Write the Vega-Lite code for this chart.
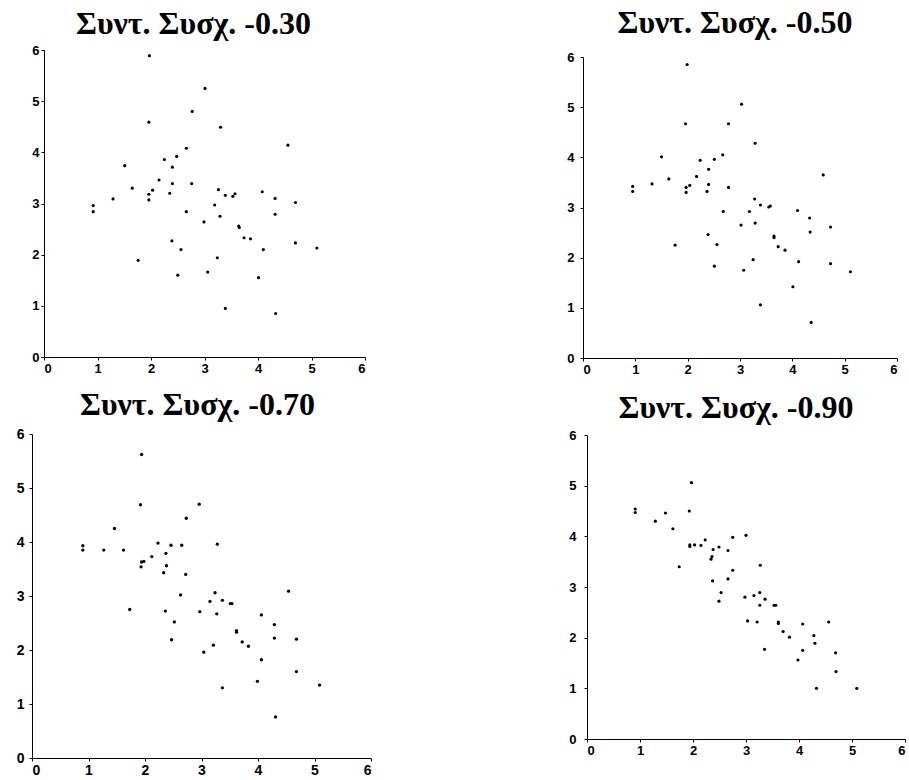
{
  "$schema": "https://vega.github.io/schema/vega-lite/v6.json",
  "padding": {"top": 7, "left": 0, "right": 0, "bottom": 0},
  "background": "white",
  "datasets": {
    "p30": [{"x":0.92,"y":2.96},{"x":0.92,"y":2.84},{"x":1.29,"y":3.09},{"x":1.51,"y":3.74},{"x":1.65,"y":3.30},{"x":1.76,"y":1.89},{"x":1.96,"y":4.59},{"x":1.96,"y":3.18},{"x":1.96,"y":3.07},{"x":1.97,"y":5.89},{"x":2.03,"y":3.26},{"x":2.15,"y":3.46},{"x":2.25,"y":3.86},{"x":2.35,"y":3.20},{"x":2.39,"y":2.27},{"x":2.40,"y":3.71},{"x":2.40,"y":3.39},{"x":2.48,"y":3.92},{"x":2.50,"y":1.60},{"x":2.56,"y":2.10},{"x":2.66,"y":4.08},{"x":2.66,"y":2.84},{"x":2.76,"y":3.39},{"x":2.77,"y":4.80},{"x":2.99,"y":2.64},{"x":3.01,"y":5.25},{"x":3.06,"y":1.66},{"x":3.19,"y":2.97},{"x":3.24,"y":1.94},{"x":3.26,"y":3.27},{"x":3.29,"y":2.75},{"x":3.30,"y":4.49},{"x":3.39,"y":3.16},{"x":3.39,"y":0.95},{"x":3.53,"y":3.14},{"x":3.57,"y":3.19},{"x":3.64,"y":2.56},{"x":3.65,"y":2.53},{"x":3.74,"y":2.33},{"x":3.86,"y":2.31},{"x":4.01,"y":1.55},{"x":4.08,"y":3.23},{"x":4.10,"y":2.10},{"x":4.32,"y":3.10},{"x":4.32,"y":2.79},{"x":4.33,"y":0.85},{"x":4.56,"y":4.14},{"x":4.70,"y":3.02},{"x":4.70,"y":2.23},{"x":5.10,"y":2.13}],
    "p50": [{"x":0.95,"y":3.42},{"x":0.95,"y":3.32},{"x":1.32,"y":3.47},{"x":1.50,"y":4.01},{"x":1.64,"y":3.57},{"x":1.76,"y":2.25},{"x":1.96,"y":4.67},{"x":1.97,"y":3.40},{"x":1.97,"y":3.30},{"x":1.99,"y":5.85},{"x":2.04,"y":3.44},{"x":2.17,"y":3.62},{"x":2.24,"y":3.94},{"x":2.37,"y":3.32},{"x":2.39,"y":2.46},{"x":2.40,"y":3.76},{"x":2.40,"y":3.46},{"x":2.51,"y":3.96},{"x":2.51,"y":1.83},{"x":2.56,"y":2.26},{"x":2.67,"y":4.05},{"x":2.68,"y":2.92},{"x":2.78,"y":3.40},{"x":2.78,"y":4.67},{"x":3.02,"y":2.65},{"x":3.03,"y":5.06},{"x":3.07,"y":1.75},{"x":3.18,"y":2.92},{"x":3.25,"y":1.96},{"x":3.28,"y":3.17},{"x":3.29,"y":2.69},{"x":3.29,"y":4.28},{"x":3.39,"y":3.05},{"x":3.39,"y":1.06},{"x":3.55,"y":3.01},{"x":3.58,"y":3.03},{"x":3.65,"y":2.43},{"x":3.65,"y":2.40},{"x":3.73,"y":2.22},{"x":3.86,"y":2.15},{"x":4.01,"y":1.42},{"x":4.10,"y":2.94},{"x":4.12,"y":1.92},{"x":4.33,"y":2.79},{"x":4.34,"y":2.51},{"x":4.36,"y":0.71},{"x":4.59,"y":3.65},{"x":4.73,"y":2.61},{"x":4.73,"y":1.88},{"x":5.11,"y":1.72}],
    "p70": [{"x":0.90,"y":3.93},{"x":0.90,"y":3.85},{"x":1.27,"y":3.85},{"x":1.46,"y":4.25},{"x":1.62,"y":3.85},{"x":1.73,"y":2.75},{"x":1.92,"y":4.69},{"x":1.94,"y":3.63},{"x":1.93,"y":3.54},{"x":1.94,"y":5.62},{"x":1.98,"y":3.64},{"x":2.12,"y":3.73},{"x":2.23,"y":3.98},{"x":2.33,"y":3.43},{"x":2.36,"y":2.72},{"x":2.37,"y":3.79},{"x":2.38,"y":3.56},{"x":2.46,"y":3.94},{"x":2.47,"y":2.19},{"x":2.52,"y":2.52},{"x":2.65,"y":3.94},{"x":2.63,"y":3.02},{"x":2.72,"y":3.40},{"x":2.73,"y":4.44},{"x":2.97,"y":2.71},{"x":2.96,"y":4.70},{"x":3.04,"y":1.96},{"x":3.15,"y":2.90},{"x":3.21,"y":2.09},{"x":3.24,"y":3.06},{"x":3.27,"y":2.67},{"x":3.28,"y":3.96},{"x":3.37,"y":2.92},{"x":3.37,"y":1.30},{"x":3.51,"y":2.86},{"x":3.54,"y":2.86},{"x":3.62,"y":2.36},{"x":3.62,"y":2.33},{"x":3.72,"y":2.15},{"x":3.83,"y":2.07},{"x":3.99,"y":1.42},{"x":4.06,"y":2.65},{"x":4.06,"y":1.82},{"x":4.29,"y":2.47},{"x":4.29,"y":2.22},{"x":4.31,"y":0.76},{"x":4.54,"y":3.09},{"x":4.68,"y":2.20},{"x":4.68,"y":1.60},{"x":5.09,"y":1.35}],
    "p90": [{"x":0.91,"y":4.54},{"x":0.91,"y":4.47},{"x":1.29,"y":4.30},{"x":1.48,"y":4.46},{"x":1.62,"y":4.15},{"x":1.74,"y":3.40},{"x":1.93,"y":4.50},{"x":1.94,"y":3.83},{"x":1.94,"y":3.80},{"x":1.97,"y":5.06},{"x":2.03,"y":3.83},{"x":2.15,"y":3.82},{"x":2.23,"y":3.93},{"x":2.34,"y":3.55},{"x":2.37,"y":3.12},{"x":2.38,"y":3.74},{"x":2.36,"y":3.60},{"x":2.49,"y":3.79},{"x":2.49,"y":2.72},{"x":2.53,"y":2.89},{"x":2.66,"y":3.72},{"x":2.66,"y":3.16},{"x":2.75,"y":3.33},{"x":2.75,"y":3.98},{"x":2.98,"y":2.80},{"x":3.00,"y":4.02},{"x":3.03,"y":2.33},{"x":3.15,"y":2.83},{"x":3.21,"y":2.31},{"x":3.26,"y":2.89},{"x":3.26,"y":2.64},{"x":3.27,"y":3.43},{"x":3.36,"y":2.76},{"x":3.35,"y":1.77},{"x":3.53,"y":2.64},{"x":3.56,"y":2.64},{"x":3.61,"y":2.31},{"x":3.61,"y":2.28},{"x":3.70,"y":2.12},{"x":3.82,"y":2.01},{"x":3.98,"y":1.56},{"x":4.07,"y":2.27},{"x":4.07,"y":1.75},{"x":4.28,"y":2.04},{"x":4.30,"y":1.89},{"x":4.33,"y":1.00},{"x":4.56,"y":2.31},{"x":4.69,"y":1.70},{"x":4.70,"y":1.33},{"x":5.09,"y":1.00}]
  },
  "vconcat": [
    {
      "hconcat": [
        {
          "width": 333, "height": 307,
          "title": {"text": "Συντ. Συσχ. -0.30", "offset": 3, "dx": -5},
          "data": {"name": "p30"},
          "mark": {"type": "circle", "size": 10, "color": "black", "opacity": 1},
          "encoding": {
            "x": {"field": "x", "type": "quantitative", "scale": {"domain": [0, 6], "nice": false, "range": [12, 333]}, "axis": {"title": null, "values": [0,1,2,3,4,5,6], "minExtent": 20, "maxExtent": 20}},
            "y": {"field": "y", "type": "quantitative", "scale": {"domain": [0, 6], "nice": false}, "axis": {"title": null, "values": [0,1,2,3,4,5,6], "offset": -12, "minExtent": 44, "maxExtent": 44, "labelPadding": 2}}
          }
        },
        {
          "width": 314, "height": 308,
          "title": {"text": "Συντ. Συσχ. -0.50", "offset": 10, "dx": -5},
          "data": {"name": "p50"},
          "mark": {"type": "circle", "size": 10, "color": "black", "opacity": 1},
          "encoding": {
            "x": {"field": "x", "type": "quantitative", "scale": {"domain": [0, 6], "nice": false}, "axis": {"title": null, "values": [0,1,2,3,4,5,6], "minExtent": 20, "maxExtent": 20}},
            "y": {"field": "y", "type": "quantitative", "scale": {"domain": [0, 6], "nice": false, "range": [308, 7]}, "axis": {"title": null, "values": [0,1,2,3,4,5,6], "minExtent": 30, "maxExtent": 30, "labelPadding": 6}}
          }
        }
      ],
      "spacing": 187,
      "align": "none"
    },
    {
      "hconcat": [
        {
          "width": 339, "height": 324,
          "title": {"text": "Συντ. Συσχ. -0.70", "offset": 5, "dx": -4},
          "data": {"name": "p70"},
          "mark": {"type": "circle", "size": 11, "color": "black", "opacity": 1},
          "encoding": {
            "x": {"field": "x", "type": "quantitative", "scale": {"domain": [0, 6], "nice": false}, "axis": {"title": null, "values": [0,1,2,3,4,5,6], "minExtent": 20, "maxExtent": 20, "labelFontSize": 14}},
            "y": {"field": "y", "type": "quantitative", "scale": {"domain": [0, 6], "nice": false}, "axis": {"title": null, "values": [0,1,2,3,4,5,6], "minExtent": 32, "maxExtent": 32, "labelPadding": 5, "labelFontSize": 14}}
          }
        },
        {
          "width": 318, "height": 305,
          "title": {"text": "Συντ. Συσχ. -0.90", "offset": 4, "dx": -10},
          "data": {"name": "p90"},
          "mark": {"type": "circle", "size": 10, "color": "black", "opacity": 1},
          "encoding": {
            "x": {"field": "x", "type": "quantitative", "scale": {"domain": [0, 6], "nice": false}, "axis": {"title": null, "values": [0,1,2,3,4,5,6], "minExtent": 20, "maxExtent": 20}},
            "y": {"field": "y", "type": "quantitative", "scale": {"domain": [0, 6], "nice": false, "range": [305, 1]}, "axis": {"title": null, "values": [0,1,2,3,4,5,6], "minExtent": 30, "maxExtent": 30, "labelPadding": 8}}
          }
        }
      ],
      "spacing": 185,
      "align": "none"
    }
  ],
  "spacing": 11,
  "align": "none",
  "config": {
    "view": {"stroke": null},
    "title": {"font": "Liberation Serif", "fontSize": 32, "fontWeight": "bold", "anchor": "middle", "frame": "group", "baseline": "alphabetic", "color": "black"},
    "axis": {"grid": false, "domainColor": "black", "domainWidth": 1, "tickColor": "black", "tickSize": 3, "tickWidth": 1, "labelPadding": 2, "labelFont": "Liberation Sans", "labelFontSize": 13, "labelFontWeight": "bold", "labelColor": "black"}
  }
}
